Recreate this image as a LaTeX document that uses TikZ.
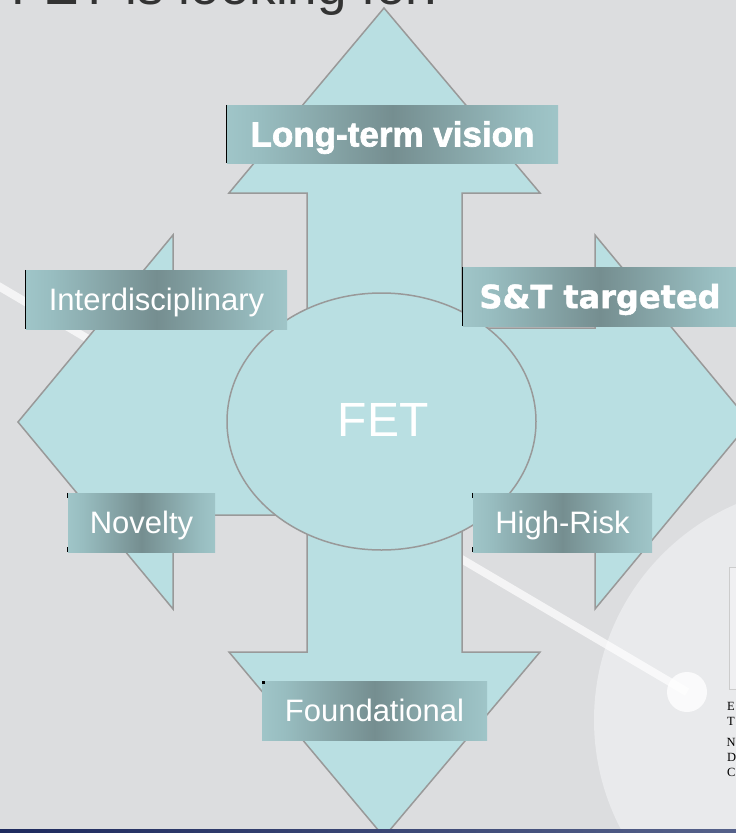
\documentclass[tikz,border=0pt]{standalone}
\usepackage{fontspec}
\setmainfont{Liberation Sans}
\newfontfamily\boldlib[BoldFeatures={FakeBold=2}]{Liberation Sans}
\newfontfamily\heavy[BoldFeatures={FakeBold=1.5}]{DejaVu Sans}
\newfontfamily\serifT{Liberation Serif}
\usetikzlibrary{shapes.geometric}
\definecolor{bgc}{HTML}{DCDDDF}
\definecolor{discc}{HTML}{E9EAEC}
\definecolor{shapec}{HTML}{B9DFE2}
\definecolor{edgec}{HTML}{999999}
\definecolor{lblLight}{HTML}{B9E0E3}
\definecolor{lblMid}{HTML}{98BDC0}
\definecolor{lblDark}{HTML}{758E90}
\definecolor{titlec}{HTML}{333333}
\definecolor{navy}{HTML}{1E2A5E}
\definecolor{navylight}{HTML}{55618A}
\pgfdeclarehorizontalshading{lblshade}{100bp}{color(0bp)=(lblLight); color(8bp)=(lblLight); color(30bp)=(lblMid); color(50bp)=(lblDark); color(70bp)=(lblMid); color(92bp)=(lblLight); color(100bp)=(lblLight)}
\tikzset{
  arrowshape/.style={fill=shapec, draw=edgec, line width=1.5pt, line join=miter},
  lbl/.style={shading=lblshade, inner sep=0pt, text=white, text depth=0pt, anchor=center},
  regfont/.style={font=\fontsize{31}{33}\selectfont, text height=22.2pt},
  blackmark/.style={draw=black, line width=1pt},
  smalltext/.style={font=\serifT\fontsize{12.5}{13}\selectfont, text=black, anchor=base west, inner sep=0pt}
}
\begin{document}
\begin{tikzpicture}[x=1pt,y=-1pt]
\useasboundingbox (0,0) rectangle (736,833);
\clip (0,0) rectangle (736,833);
% background
\fill[bgc] (0,0) rectangle (736,833);
\fill[discc] (829,720) circle[radius=235];
% decorative diagonal line with dot
\coordinate (lstart) at (-5,284);
\coordinate (lend) at (687,692);
\draw[white, opacity=0.7, line width=8pt] (lstart) -- (lend);
\fill[white, opacity=0.8] (lend) circle[radius=20];
% cross (four-headed) arrow
\draw[arrowshape] (384,8) -- (540,193) -- (462,193) -- (462,328) -- (595,328) -- (595,235)
  -- (750,422) -- (595,609) -- (595,515) -- (462,515) -- (462,652) -- (540,652)
  -- (384,837) -- (229,652) -- (307,652) -- (307,515) -- (173,515) -- (173,609)
  -- (18,422) -- (173,235) -- (173,328) -- (307,328) -- (307,193) -- (229,193) -- cycle;
% central ellipse
\node[ellipse, fill=shapec, draw=edgec, line width=1.5pt, minimum width=309pt, minimum height=257pt, inner sep=0pt] (fet) at (381.5,421.5) {};
\node[text=white, font=\fontsize{48}{50}\selectfont, text height=34.4pt, text depth=0pt, inner sep=0pt] (fettext) at (383,419.5) {FET};
% labels
\node[lbl, minimum width=331pt, minimum height=58pt, font=\boldlib\bfseries\fontsize{35}{37}\selectfont, text height=25pt] (ltv) at (392.5,134) {Long-term vision};
\node[lbl, regfont, minimum width=261pt, minimum height=59pt] (inter) at (156.5,299.5) {Interdisciplinary};
\node[lbl, minimum width=274pt, minimum height=59pt, font=\heavy\bfseries\fontsize{32}{34}\selectfont, text height=23.3pt] (st) at (600,296.5) {S\&T targeted};
\node[lbl, regfont, minimum width=147pt, minimum height=59pt] (nov) at (141.5,522.5) {Novelty};
\node[lbl, regfont, minimum width=179pt, minimum height=59pt] (hr) at (562.5,522.5) {High-Risk};
\node[lbl, regfont, minimum width=225pt, minimum height=59pt] (fnd) at (374.5,710.5) {Foundational};
% black marks at left edges of labels
\draw[blackmark] (ltv.north west) -- (ltv.south west);
\draw[blackmark] (inter.north west) -- (inter.south west);
\draw[blackmark] (st.north west) -- (st.south west);
\draw[blackmark] (nov.north west) -- ++(0,5);
\draw[blackmark] (nov.south west) -- ++(0,-5);
\draw[blackmark] (hr.north west) -- ++(0,5);
\draw[blackmark] (hr.south west) -- ++(0,-5);
\fill[black] (fnd.north west) rectangle ++(3,3);
% right-hand picture fragment and text fragments
\node[fill=discc!70!white, draw=gray!40, line width=1pt, minimum width=12pt, minimum height=122pt, inner sep=0pt, anchor=north west] (pic) at (729,567) {};
\node[smalltext] (e1) at (727,710) {E};
\node[smalltext] (t1) at (727,725) {T};
\node[smalltext] (n1) at (726.5,746) {N};
\node[smalltext] (d1) at (727,761) {D};
\node[smalltext] (c1) at (727,776) {C};
% bottom bar
\shade[left color=navy, right color=navylight, shading angle=90] (0,829.5) rectangle (736,833);
% title (cut off at top)
\node[anchor=base west, inner sep=0pt, text=titlec, font=\fontsize{53}{55}\selectfont] (title) at (11,4) {FET is looking for:};
\end{tikzpicture}
\end{document}
